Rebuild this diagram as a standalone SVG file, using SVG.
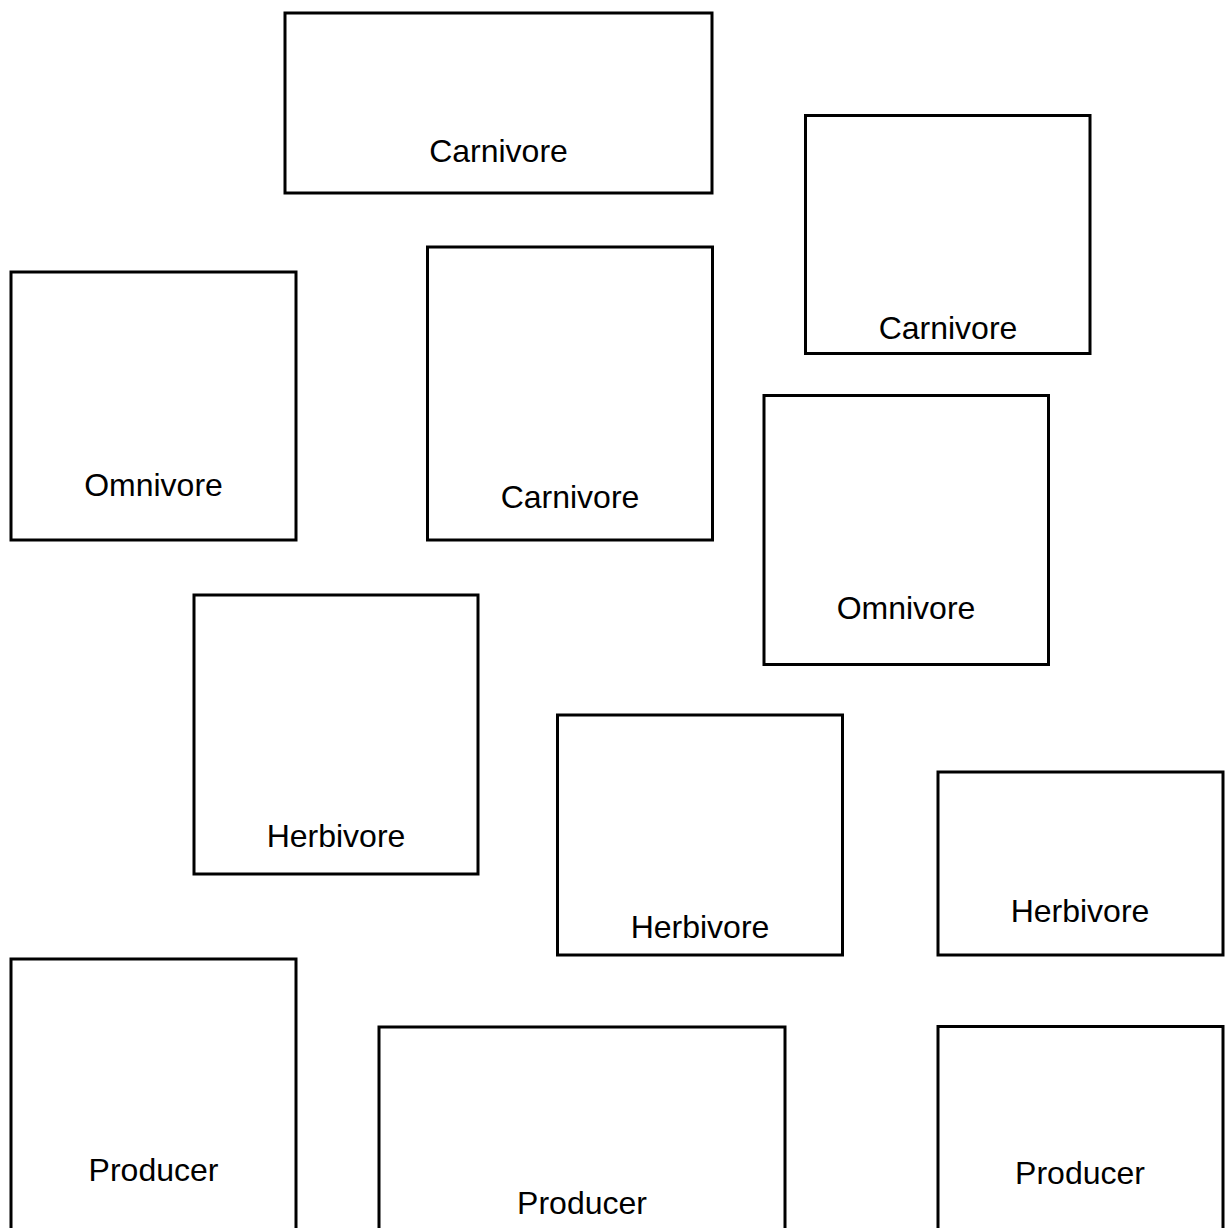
<svg xmlns="http://www.w3.org/2000/svg" width="1225" height="1228" viewBox="0 0 1225 1228">
  <style>
    .box { fill: #ffffff; stroke: #000000; stroke-width: 3; }
    .label { font-family: "Liberation Sans", Arial, sans-serif; font-size: 32px; fill: #000000; text-anchor: middle; }
  </style>
  <rect x="0" y="0" width="1225" height="1228" fill="#ffffff"/>
  <g id="connectors"></g>
  <g id="nodes">
    <g id="carnivore-top">
      <rect class="box" x="285" y="13" width="427" height="180"/>
      <text class="label" x="498.5" y="162">Carnivore</text>
    </g>
    <g id="carnivore-right">
      <rect class="box" x="805.5" y="115.5" width="284.5" height="238"/>
      <text class="label" x="948" y="339">Carnivore</text>
    </g>
    <g id="omnivore-left">
      <rect class="box" x="11" y="272" width="285" height="268"/>
      <text class="label" x="153.5" y="496">Omnivore</text>
    </g>
    <g id="carnivore-mid">
      <rect class="box" x="427.5" y="247" width="285" height="293"/>
      <text class="label" x="570" y="508">Carnivore</text>
    </g>
    <g id="omnivore-right">
      <rect class="box" x="764" y="395.5" width="284.5" height="269"/>
      <text class="label" x="906" y="619">Omnivore</text>
    </g>
    <g id="herbivore-left">
      <rect class="box" x="194" y="595" width="284" height="279"/>
      <text class="label" x="336" y="847">Herbivore</text>
    </g>
    <g id="herbivore-mid">
      <rect class="box" x="557.5" y="715" width="285" height="240"/>
      <text class="label" x="700" y="938">Herbivore</text>
    </g>
    <g id="herbivore-right">
      <rect class="box" x="938" y="772" width="285" height="183"/>
      <text class="label" x="1080" y="922">Herbivore</text>
    </g>
    <g id="producer-left">
      <rect class="box" x="11" y="959" width="285" height="300"/>
      <text class="label" x="153.5" y="1181">Producer</text>
    </g>
    <g id="producer-mid">
      <rect class="box" x="379" y="1027" width="406" height="300"/>
      <text class="label" x="582" y="1214">Producer</text>
    </g>
    <g id="producer-right">
      <rect class="box" x="938" y="1026.5" width="285" height="300"/>
      <text class="label" x="1080" y="1184">Producer</text>
    </g>
  </g>
</svg>
